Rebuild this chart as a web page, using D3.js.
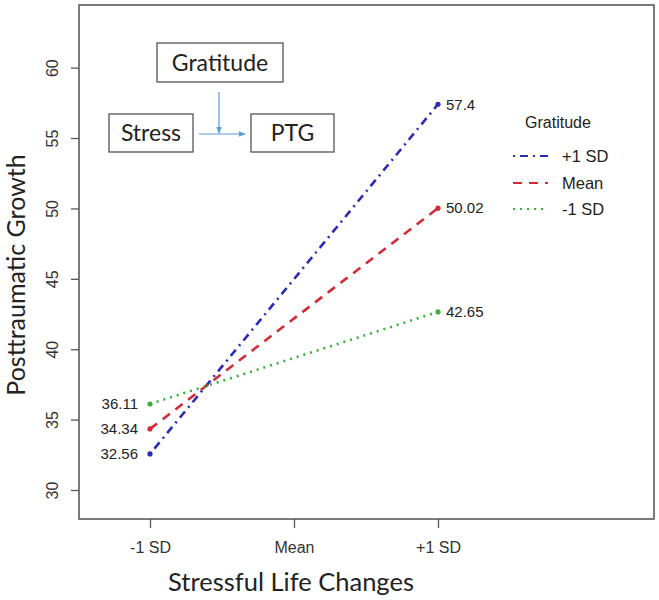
<!DOCTYPE html>
<html><head><meta charset="utf-8">
<script src="https://cdn.jsdelivr.net/npm/d3@7"></script>
<style>body{margin:0;background:#fff}svg{display:block}</style>
</head><body>
<svg id="c" width="659" height="600"></svg>
<script>
const categories = ["-1 SD", "Mean", "+1 SD"];
const categoryValues = [-1, 0, 1];
const seriesNames = ["+1 SD", "Mean", "-1 SD"];
const plus1Values = [32.56, 57.4];
const meanValues = [34.34, 50.02];
const minus1Values = [36.11, 42.65];
const endpointX = [-1, 1];
const yTicks = [30, 35, 40, 45, 50, 55, 60];
const labelsPlus1 = ["32.56", "57.4"];
const labelsMean = ["34.34", "50.02"];
const labelsMinus1 = ["36.11", "42.65"];

const svg = d3.select("#c");
const frame = {l: 79, r: 654, t: 5, b: 519};
const x = d3.scaleLinear().domain([-1, 1]).range([150, 438]);
const y = d3.scaleLinear().domain([27.94, 64.45]).range([frame.b, frame.t]);
const ARIAL = "Liberation Sans, Arial, sans-serif";
const SANS = "Lato, Open Sans, sans-serif";

const series = [
  {name: seriesNames[0], vals: plus1Values, labels: labelsPlus1, color: "#2b2bb8", dash: "2,5,8,5"},
  {name: seriesNames[1], vals: meanValues, labels: labelsMean, color: "#d42a35", dash: "9,7"},
  {name: seriesNames[2], vals: minus1Values, labels: labelsMinus1, color: "#3cb03c", dash: "2,5"}
];

// frame
svg.append("rect").attr("x", frame.l).attr("y", frame.t)
  .attr("width", frame.r - frame.l).attr("height", frame.b - frame.t)
  .attr("fill", "none").attr("stroke", "#5a5a5a").attr("stroke-width", 1.6);

// y axis
const yAxis = d3.axisLeft(y).tickValues(yTicks).tickSize(8);
const gy = svg.append("g").attr("transform", `translate(${frame.l},0)`).call(yAxis);
gy.select(".domain").remove();
gy.selectAll(".tick line").attr("stroke", "#5a5a5a").attr("stroke-width", 1.3);
gy.selectAll(".tick text")
  .attr("font-family", ARIAL).attr("font-size", 16).attr("fill", "#333")
  .attr("x", 0).attr("y", 0).attr("dy", "0.35em")
  .attr("text-anchor", "middle")
  .attr("transform", "translate(-27,0) rotate(-90)");

// x axis
const xAxis = d3.axisBottom(x).tickValues(categoryValues)
  .tickFormat((d, i) => categories[i]).tickSize(9).tickPadding(14);
const gx = svg.append("g").attr("transform", `translate(0,${frame.b})`).call(xAxis);
gx.select(".domain").remove();
gx.selectAll(".tick line").attr("stroke", "#5a5a5a").attr("stroke-width", 1.3);
gx.selectAll(".tick text").attr("font-family", ARIAL)
  .attr("font-size", 16).attr("fill", "#333");

// axis titles
svg.append("text").attr("transform", "translate(25,275) rotate(-90)")
  .attr("text-anchor", "middle").attr("font-family", SANS)
  .attr("font-size", 25).attr("fill", "#222").text("Posttraumatic Growth");
svg.append("text").attr("x", 291).attr("y", 591)
  .attr("text-anchor", "middle").attr("font-family", SANS)
  .attr("font-size", 25.5).attr("fill", "#222").text("Stressful Life Changes");

// lines
const line = d3.line().x((d, i) => x(endpointX[i])).y(d => y(d));
series.forEach(s => {
  svg.append("path").datum(s.vals).attr("d", line)
    .attr("fill", "none").attr("stroke", s.color).attr("stroke-width", 2.6)
    .attr("stroke-dasharray", s.dash);
  svg.selectAll(null).data(s.vals).enter().append("circle")
    .attr("cx", (d, i) => x(endpointX[i])).attr("cy", d => y(d)).attr("r", 2.6)
    .attr("fill", s.color);
  svg.selectAll(null).data(s.vals).enter().append("text")
    .attr("x", (d, i) => i === 0 ? x(endpointX[i]) - 12 : x(endpointX[i]) + 8)
    .attr("y", d => y(d)).attr("dy", "0.35em")
    .attr("text-anchor", (d, i) => i === 0 ? "end" : "start")
    .attr("font-family", ARIAL).attr("font-size", 15).attr("fill", "#222")
    .text((d, i) => s.labels[i]);
});

// legend
const lg = svg.append("g");
lg.append("text").attr("x", 558).attr("y", 122).attr("dy", "0.35em").attr("text-anchor", "middle")
  .attr("font-family", ARIAL).attr("font-size", 16).attr("fill", "#222").text("Gratitude");
const legY = [156, 183, 209];
series.forEach((s, i) => {
  lg.append("line").attr("x1", 513).attr("x2", 548).attr("y1", legY[i]).attr("y2", legY[i])
    .attr("stroke", s.color).attr("stroke-width", 2.2).attr("stroke-dasharray", s.dash);
  lg.append("text").attr("x", 562).attr("y", legY[i]).attr("dy", "0.35em")
    .attr("font-family", ARIAL).attr("font-size", 16.5).attr("fill", "#222").text(s.name);
});

// moderation diagram
const boxes = [
  {label: "Gratitude", x: 157, y: 43, w: 126, h: 39},
  {label: "Stress", x: 109, y: 114, w: 84, h: 38},
  {label: "PTG", x: 251, y: 114, w: 83, h: 38}
];
const dg = svg.append("g");
boxes.forEach(b => {
  dg.append("rect").attr("x", b.x).attr("y", b.y).attr("width", b.w).attr("height", b.h)
    .attr("fill", "#fff").attr("stroke", "#555").attr("stroke-width", 1.3);
  dg.append("text").attr("x", b.x + b.w / 2).attr("y", b.y + b.h / 2).attr("dy", "0.35em")
    .attr("text-anchor", "middle").attr("font-family", SANS)
    .attr("font-size", 23).attr("fill", "#222").text(b.label);
});
const defs = svg.append("defs");
defs.append("marker").attr("id", "ah").attr("viewBox", "0 0 10 10").attr("refX", 9).attr("refY", 5)
  .attr("markerWidth", 6).attr("markerHeight", 6).attr("orient", "auto")
  .append("path").attr("d", "M0,1 L10,5 L0,9 Z").attr("fill", "#5b9bd5");
dg.append("line").attr("x1", 199).attr("y1", 134).attr("x2", 245).attr("y2", 134)
  .attr("stroke", "#5b9bd5").attr("stroke-width", 1.2).attr("marker-end", "url(#ah)");
dg.append("line").attr("x1", 219).attr("y1", 92).attr("x2", 219).attr("y2", 133)
  .attr("stroke", "#5b9bd5").attr("stroke-width", 1.2).attr("marker-end", "url(#ah)");
</script>
</body></html>
